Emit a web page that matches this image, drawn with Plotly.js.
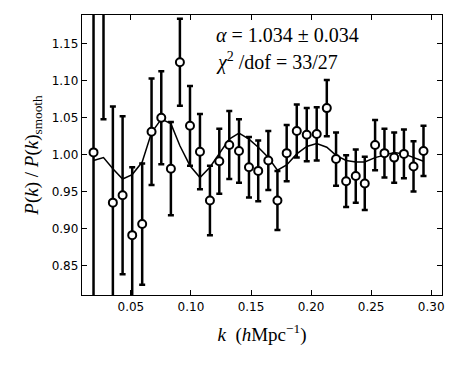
<!DOCTYPE html>
<html>
<head>
<meta charset="utf-8">
<script src="https://cdn.plot.ly/plotly-3.0.1.min.js"></script>
<style>
  body { margin: 0; background: #fff; }
  #chart { width: 458px; height: 365px; }
</style>
</head>
<body>
<div id="chart"></div>
<script>
// 測定点 (k, P/Psmooth, 誤差)
let k_vals = [0.0189, 0.0272, 0.0350, 0.0431, 0.0511, 0.0594, 0.0672, 0.0753, 0.0833, 0.0908,
              0.0992, 0.1075, 0.1158, 0.1236, 0.1319, 0.1400, 0.1483, 0.1560, 0.1644, 0.1720,
              0.1797, 0.1881, 0.1964, 0.2047, 0.2131, 0.2208, 0.2292, 0.2372, 0.2447, 0.2533,
              0.2611, 0.2692, 0.2773, 0.2853, 0.2936];
let ratio = [1.003, 1.250, 0.935, 0.945, 0.891, 0.906, 1.031, 1.050, 0.981, 1.125,
             1.039, 1.004, 0.938, 0.991, 1.013, 1.005, 0.983, 0.978, 0.992, 0.938,
             1.002, 1.032, 1.027, 1.028, 1.063, 0.994, 0.964, 0.971, 0.961, 1.013,
             1.002, 0.996, 1.001, 0.984, 1.005];
let err = [0.250, 0.202, 0.130, 0.107, 0.092, 0.082, 0.072, 0.063, 0.063, 0.059,
           0.054, 0.051, 0.047, 0.044, 0.046, 0.043, 0.041, 0.041, 0.040, 0.040,
           0.038, 0.036, 0.036, 0.036, 0.038, 0.036, 0.035, 0.036, 0.036, 0.034,
           0.033, 0.034, 0.033, 0.034, 0.034];
// フィットしたモデル
let model = [0.992, 0.996, 0.981, 0.967, 0.973, 0.990, 1.030, 1.048, 1.042, 1.012,
             0.985, 0.969, 0.983, 1.001, 1.021, 1.029, 1.021, 1.010, 0.996, 0.979,
             0.986, 1.001, 1.011, 1.015, 1.010, 0.999, 0.992, 0.990, 0.990, 0.996,
             0.999, 1.003, 1.001, 0.996, 0.991];

let y_ticks = [0.85, 0.90, 0.95, 1.00, 1.05, 1.10, 1.15];
let x_ticks = [0.05, 0.10, 0.15, 0.20, 0.25, 0.30];

let serif = "Liberation Serif, DejaVu Serif, serif";

let trace_model = {
    x: k_vals,
    y: model,
    type: "scatter",
    mode: "lines",
    line: { color: "black", width: 1.5 },
    hoverinfo: "skip",
};

let trace_data = {
    x: k_vals,
    y: ratio,
    type: "scatter",
    mode: "markers",
    marker: {
        symbol: "circle",
        size: 8,
        color: "white",
        line: { color: "black", width: 2 },
    },
    error_y: {
        type: "data",
        array: err,
        visible: true,
        color: "black",
        thickness: 2.5,
        width: 3,
    },
    cliponaxis: true,
};

let layout = {
    width: 458,
    height: 365,
    showlegend: false,
    paper_bgcolor: "white",
    plot_bgcolor: "white",
    margin: { l: 82, r: 16, t: 15, b: 70 },
    font: { family: "DejaVu Sans", size: 12, color: "black" },
    xaxis: {
        range: [0.0093, 0.309],
        tickvals: x_ticks,
        ticktext: x_ticks.map(v => v.toFixed(2)),
        ticks: "inside",
        ticklen: 5,
        tickcolor: "black",
        mirror: "ticks",
        showline: true,
        linecolor: "black",
        linewidth: 1.2,
        showgrid: false,
        zeroline: false,
        tickfont: { size: 12 },
        title: {
            text: "<i>k</i>  (<i>h</i>Mpc<sup>−1</sup>)",
            font: { family: serif, size: 19 },
            standoff: 15,
        },
    },
    yaxis: {
        range: [0.81, 1.189],
        tickvals: y_ticks,
        ticktext: y_ticks.map(v => v.toFixed(2)),
        ticks: "inside",
        ticklen: 5,
        tickcolor: "black",
        mirror: "ticks",
        showline: true,
        linecolor: "black",
        linewidth: 1.2,
        showgrid: false,
        zeroline: false,
        tickfont: { size: 12 },
        title: {
            text: "<i>P</i>(<i>k</i>) / <i>P</i>(<i>k</i>)<sub>smooth</sub>",
            font: { family: serif, size: 19 },
            standoff: 8,
        },
    },
    annotations: [
        {
            xref: "paper", yref: "paper",
            x: 0.368, y: 0.93,
            xanchor: "left", yanchor: "middle",
            showarrow: false,
            text: "<i>α</i> = 1.034 ± 0.034",
            font: { family: serif, size: 20, color: "black" },
        },
        {
            xref: "paper", yref: "paper",
            x: 0.368, y: 0.835,
            xanchor: "left", yanchor: "middle",
            showarrow: false,
            text: "<i>χ</i><sup>2</sup> /dof = 33/27",
            font: { family: serif, size: 20, color: "black" },
        },
    ],
};

Plotly.newPlot("chart", [trace_model, trace_data], layout, { staticPlot: true });
</script>
</body>
</html>
